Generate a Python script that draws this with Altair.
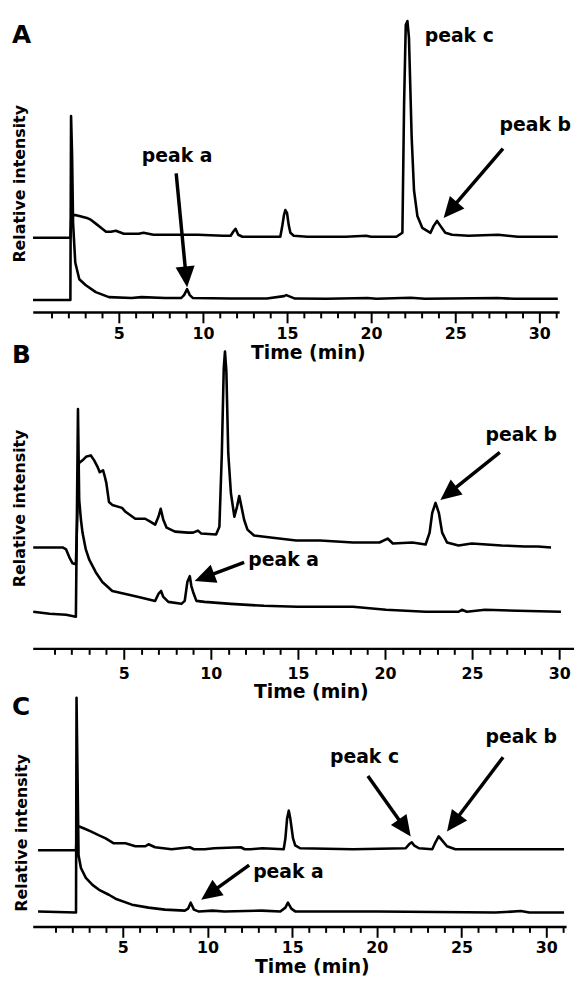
import math
import altair as alt
import pandas as pd

FONT = "DejaVu Sans"

# ---------------- data (time in min, relative intensity in arbitrary units) ----------------
# Panel A
A_up_t = [-0.1, 2.12, 2.18, 2.4, 2.65, 3.1, 3.35, 3.65, 3.94, 4.24, 4.53, 4.82, 5.3, 6.18, 6.47, 7.06,
          8.53, 9.7, 11.2, 11.65, 11.8, 11.94, 12.1, 12.35, 13.2, 14.6, 14.7, 14.82, 14.9, 15.0, 15.1,
          15.2, 15.4, 16.2, 18.5, 19.7, 20.0, 21.5, 21.86, 21.96, 22.06, 22.16, 22.25, 22.41, 22.55,
          22.75, 23.04, 23.53, 23.72, 23.92, 24.12, 24.41, 24.81, 25.78, 27.55, 28.72, 31.1]
A_up_v = [75, 75, 97, 98, 97, 95, 93, 89, 85, 81, 81, 82, 79, 79, 80, 78,
          78, 78, 77, 77, 81, 84, 78, 76, 76, 76, 85, 98, 103, 100, 88,
          80, 77, 76, 76, 77, 76, 76, 80, 210, 290, 294, 277, 177, 123,
          97, 85, 80, 87, 92, 87, 80, 78, 77, 78, 76, 76]
A_lo_t = [-0.1, 2.12, 2.16, 2.22, 2.28, 2.41, 2.65, 3.04, 3.63, 4.41, 5.76, 6.35, 7.76, 8.7, 8.88, 9.06,
          9.22, 9.41, 11.65, 13.8, 14.82, 14.96, 15.18, 15.47, 17.35, 19.8, 20.3, 22.35, 23.2, 27.5,
          28.5, 31.1]
A_lo_v = [12, 12, 198, 160, 90, 50, 33, 27, 20, 15, 14, 15, 14, 14, 17, 23,
          17, 14, 13.5, 13.5, 16, 17, 15.5, 13.5, 13.3, 14, 13.3, 14.3, 13.3, 14,
          13.3, 13.3]

# Panel B
B_up_t = [-0.2, 1.49, 1.69, 1.875, 2.06, 2.25, 2.42, 2.63, 2.86, 3.11, 3.3, 3.48, 3.62, 3.81, 3.92, 4.0,
          4.15, 4.34, 4.9, 5.1, 5.66, 6.23, 6.52, 6.8, 6.99, 7.12, 7.27, 7.46, 7.94, 8.69, 8.98,
          9.26, 9.45, 10.3, 10.49, 10.63, 10.74, 10.81, 10.89, 11.0, 11.15, 11.35, 11.5, 11.63,
          11.76, 11.91, 12.1, 12.48, 13.43, 14.9, 16.27, 18.16, 19.68, 20.15, 20.45, 21.57, 22.33,
          22.56, 22.71, 22.9, 23.09, 23.28, 23.56, 24.22, 24.98, 26.69, 28.01, 28.77, 29.53]
B_up_v = [102, 102, 100, 92, 86, 85, 187, 190, 194, 195, 190, 184, 178, 180, 173, 167,
          148, 145, 142, 138, 131, 131, 128, 125, 133, 141, 130, 122, 118, 117, 117,
          119, 116, 115, 123, 197, 283, 300, 280, 197, 157, 133, 143, 154,
          143, 130, 120, 114, 112, 109, 109, 107, 107, 111, 106, 107, 105,
          117, 137, 147, 137, 117, 107, 104, 106, 104, 103, 103, 102]
B_lo_t = [-0.2, 0.74, 1.69, 2.25, 2.37, 2.44, 2.54, 2.63, 2.82, 3.01, 3.39, 3.77, 4.34, 5.1, 5.85, 6.8,
          6.99, 7.14, 7.27, 7.56, 8.31, 8.5, 8.65, 8.79, 8.88, 8.98, 9.17, 9.64, 11.15, 13.05, 14.94,
          18.16, 20.06, 22.33, 24.22, 24.41, 24.7, 25.74, 27.63, 30.1]
B_lo_v = [37, 35, 34, 32, 242, 150, 130, 117, 100, 90, 77, 67, 58, 55, 52, 48,
          55, 58, 52, 47, 45, 48, 67, 73, 63, 57, 48, 47, 45, 43, 42,
          42, 39, 37, 37, 39, 37, 39, 38, 37]

# Panel C
C_up_t = [0.0, 2.24, 2.3, 2.43, 2.72, 3.11, 3.6, 3.99, 4.47, 5.16, 5.74, 6.33, 6.52, 6.91, 7.88, 8.95,
          9.2, 9.83, 10.4, 11.97, 12.2, 12.55, 13.24, 14.5, 14.6, 14.7, 14.8, 14.89, 15.05, 15.18,
          15.47, 18.59, 21.7, 21.9, 22.06, 22.19, 22.48, 23.27, 23.46, 23.65, 23.85, 24.14, 24.63,
          26.38, 31.05]
C_up_v = [77, 77, 101, 101, 99, 96, 92, 89, 84, 84, 81, 81, 83, 80, 78, 80,
          78, 78, 79, 80, 78, 78, 79, 78, 89, 109, 117, 109, 89, 82,
          79, 78, 79, 83, 85, 82, 79, 78, 85, 91, 87, 81, 78,
          78, 78]
C_lo_t = [0.0, 2.24, 2.27, 2.39, 2.53, 2.82, 3.21, 3.6, 4.18, 4.57, 5.54, 6.52, 7.49, 8.66, 8.86, 9.01,
          9.2, 9.5, 10.3, 11.0, 13.2, 14.3, 14.6, 14.75, 14.95, 15.2, 20.0, 27.0, 28.5, 29.0, 31.05]
C_lo_v = [15, 14, 231, 72, 59, 49, 42, 37, 32, 28, 22, 19, 17, 16, 18, 24,
          17, 15, 16, 15, 16, 15, 19, 24, 18, 15, 15, 14, 15.5, 14, 14]

# Annotations: label text with its anchor (time, intensity)
A_labels = [("peak a", 8.47, 152), ("peak c", 25.24, 273), ("peak b", 29.76, 183)]
B_labels = [("peak a", 14.18, 83), ("peak b", 27.82, 210)]
C_labels = [("peak a", 14.78, 49), ("peak c", 19.27, 165), ("peak b", 28.52, 185)]
# Arrows: tail (time, intensity) -> tip (time, intensity)
A_arrows = [(8.41, 140, 9.06, 25), (27.84, 165, 24.31, 95)]
B_arrows = [(11.91, 87, 9.07, 68), (26.59, 198, 23.18, 150)]
C_arrows = [(12.46, 62, 9.63, 27), (19.47, 152, 22.0, 91), (27.45, 171, 24.14, 96)]

HEAD_LEN = 21
HEAD_PATH = "M0,0L-0.46,1L0.46,1Z"


def panel(letter, up_t, up_v, lo_t, lo_v, labels, arrows, xdom, width, height,
          ticks, letter_y, ytitle_x, ytitle_y, label_pad, xtitle_x, xtitle_y):
    assert len(up_t) == len(up_v) and len(lo_t) == len(lo_v)
    kx = width / (xdom[1] - xdom[0])
    lines = pd.DataFrame({
        "t": list(up_t) + list(lo_t),
        "v": list(up_v) + list(lo_v),
        "trace": ["upper"] * len(up_t) + ["lower"] * len(lo_t),
    })
    x_axis = alt.Axis(
        values=ticks, title="Time (min)", grid=False,
        labelExpr="datum.value % 5 === 0 ? datum.label : ''",
        tickSize={"condition": {"test": "datum.value % 5 === 0", "value": 11}, "value": 6},
        tickWidth=2, tickColor="black", domainWidth=2.5, domainColor="black",
        labelFont=FONT, labelFontSize=16, labelFontWeight="bold", labelColor="black",
        labelBaseline="alphabetic", labelPadding=label_pad, labelFlush=False, labelOverlap=False,
        titleFont=FONT, titleFontSize=19, titleFontWeight="bold", titleColor="black",
        titleX=xtitle_x, titleY=xtitle_y, titleBaseline="alphabetic", titleAlign="center",
    )
    y_axis = alt.Axis(
        title="Relative intensity", domain=False, ticks=False, labels=False, grid=False,
        titleFont=FONT, titleFontSize=16, titleFontWeight="bold", titleColor="black",
        titleX=ytitle_x, titleY=ytitle_y, titleAngle=270, titleBaseline="bottom",
        titleAlign="center",
    )
    xscale = alt.Scale(domain=list(xdom), nice=False, zero=False)
    yscale = alt.Scale(domain=[0, height], nice=False, zero=True)
    X = alt.X("t:Q", scale=xscale, axis=x_axis)
    Y = alt.Y("v:Q", scale=yscale, axis=y_axis)

    line_layer = alt.Chart(lines).mark_line(color="black", strokeWidth=2.6, strokeJoin="round").encode(
        x=X, y=Y, detail="trace:N")

    arows = []
    for tail_t, tail_v, tip_t, tip_v in arrows:
        dx = (tip_t - tail_t) * kx
        dy = -(tip_v - tail_v)
        L = math.hypot(dx, dy)
        ux, uy = dx / L, dy / L
        ang = math.degrees(math.atan2(dx, -dy)) % 360
        back = HEAD_LEN * 0.6
        arows.append({"t": tail_t, "v": tail_v,
                      "t2": tip_t - ux * back / kx, "v2": tip_v + uy * back,
                      "tipt": tip_t, "tipv": tip_v, "ang": ang})
    adf = pd.DataFrame(arows)
    shaft = alt.Chart(adf).mark_rule(color="black", strokeWidth=3.5).encode(
        x=X, y=Y, x2="t2:Q", y2="v2:Q")
    head = alt.Chart(adf).mark_point(shape=HEAD_PATH, filled=True, size=(2 * HEAD_LEN) ** 2,
                                     color="black", opacity=1, strokeWidth=0).encode(
        x=alt.X("tipt:Q", scale=xscale, axis=x_axis),
        y=alt.Y("tipv:Q", scale=yscale, axis=y_axis),
        angle=alt.Angle("ang:Q", scale=None))

    ldf = pd.DataFrame(labels, columns=["label", "t", "v"])
    text = alt.Chart(ldf).mark_text(font=FONT, fontSize=19, fontWeight="bold", align="center",
                                    baseline="alphabetic", color="black").encode(
        x=X, y=Y, text="label:N")

    let = alt.Chart(pd.DataFrame({"letter": [letter]})).mark_text(
        font=FONT, fontSize=25, fontWeight="bold", align="left", baseline="alphabetic",
        color="black").encode(x=alt.value(-21), y=alt.value(letter_y), text="letter:N")

    return alt.layer(line_layer, shaft, head, text, let).properties(width=width, height=height)


pA = panel("A", A_up_t, A_up_v, A_lo_t, A_lo_v, A_labels, A_arrows, (-0.118, 31.18), 532, 298,
           list(range(1, 32)), 26, -5, 168, 16, 278, 47)
pB = panel("B", B_up_t, B_up_v, B_lo_t, B_lo_v, B_labels, B_arrows, (-0.227, 30.85), 547, 310,
           list(range(1, 31)), 22, -5, 168, 19, 281, 50)
pC = panel("C", C_up_t, C_up_v, C_lo_t, C_lo_v, C_labels, C_arrows, (-0.315, 31.17), 539, 251,
           list(range(1, 32)), 37, -3, 156, 15, 282, 47)

chart = alt.vconcat(pA, pB, pC, spacing=30, bounds="flush").properties(
    padding={"left": 4, "top": 4, "right": 0, "bottom": 0}
).configure_view(stroke=None)

chart.save("out.html", embed_options={"renderer": "svg", "actions": False})
